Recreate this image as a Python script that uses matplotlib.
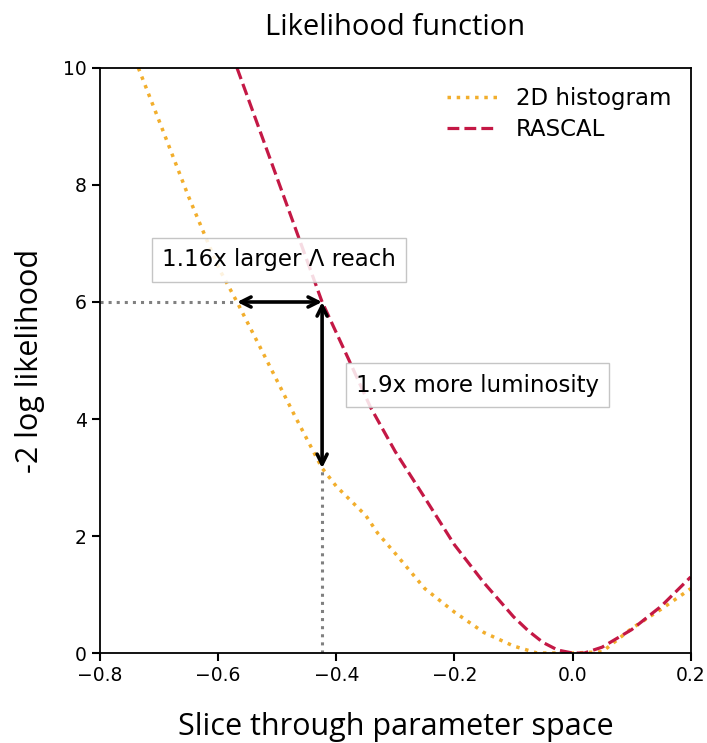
import numpy as np
import matplotlib
matplotlib.use("Agg")
import matplotlib.pyplot as plt

# slice through parameter space and -2 log likelihood for each method
x_hist = [-0.735, -0.70, -0.65, -0.60, -0.568, -0.52, -0.47, -0.424, -0.40, -0.37,
          -0.35, -0.33, -0.30, -0.25, -0.20, -0.15, -0.10, -0.06, 0.0, 0.05,
          0.10, 0.15, 0.20]
y_hist = [10.0, 9.1, 7.8, 6.6, 6.0, 5.05, 4.05, 3.16, 2.85, 2.55,
          2.35, 2.05, 1.7, 1.1, 0.7, 0.35, 0.12, 0.0, 0.0, 0.02,
          0.42, 0.75, 1.1]

x_rascal = [-0.568, -0.52, -0.47, -0.424, -0.38, -0.342, -0.30, -0.25, -0.20,
            -0.15, -0.10, -0.075, -0.05, -0.025, 0.0, 0.02, 0.05, 0.10, 0.15, 0.20]
y_rascal = [10.0, 8.67, 7.28, 6.0, 5.04, 4.2, 3.44, 2.65, 1.85,
            1.2, 0.62, 0.38, 0.18, 0.05, 0.0, 0.0, 0.1, 0.4, 0.8, 1.3]

# reference level and crossing points used for the annotations
y_ref = 6.0
x_hist_ref = -0.568
x_rascal_ref = -0.424
y_hist_at_rascal = 3.16

fig = plt.figure(figsize=(7.07, 7.43), dpi=100)
ax = fig.add_axes([0.1414, 0.1211, 0.8356, 0.7874])

ax.plot(x_hist, y_hist, ':', color='#f2ae2c', lw=2.5, label='2D histogram')
ax.plot(x_rascal, y_rascal, '--', color='#c41845', lw=2.3, label='RASCAL')

# guide lines
ax.plot([-0.8, x_hist_ref], [y_ref, y_ref], ':', color='gray', lw=2.2)
ax.plot([x_rascal_ref, x_rascal_ref], [0, y_hist_at_rascal], ':', color='gray', lw=2.2)

ax.annotate('', xy=(x_hist_ref, y_ref), xytext=(x_rascal_ref, y_ref),
            arrowprops=dict(arrowstyle='<->', color='black', lw=2.6,
                            shrinkA=0, shrinkB=0, mutation_scale=18))
ax.annotate('', xy=(x_rascal_ref, y_hist_at_rascal), xytext=(x_rascal_ref, y_ref),
            arrowprops=dict(arrowstyle='<->', color='black', lw=2.6,
                            shrinkA=0, shrinkB=0, mutation_scale=18))

box = dict(boxstyle='square,pad=0.45', facecolor='white', edgecolor='#bbbbbb', alpha=0.85)
ax.text(-0.497, 6.72, u'1.16x larger \u039b reach', fontsize=16.5, ha='center', va='center',
        bbox=box, family='DejaVu Sans')
ax.text(-0.161, 4.58, '1.9x more luminosity', fontsize=16.5, ha='center', va='center',
        bbox=box, family='DejaVu Sans')

ax.set_xlim(-0.8, 0.2)
ax.set_ylim(0, 10)
ax.set_xticks([-0.8, -0.6, -0.4, -0.2, 0.0, 0.2])
ax.set_yticks([0, 2, 4, 6, 8, 10])
ax.tick_params(labelsize=13.5, width=1.5, length=6)
for s in ax.spines.values():
    s.set_linewidth(1.3)

ax.set_title('Likelihood function', fontsize=21, family='Open Sans', pad=24)
ax.set_xlabel('Slice through parameter space', fontsize=22, family='Open Sans', labelpad=19)
ax.set_ylabel('-2 log likelihood', fontsize=22, family='Open Sans', labelpad=13)

leg = ax.legend(loc='upper right', fontsize=16.5, frameon=False, handlelength=2.2,
                borderaxespad=0.45, labelspacing=0.35)

fig.savefig('out.png', dpi=100)
